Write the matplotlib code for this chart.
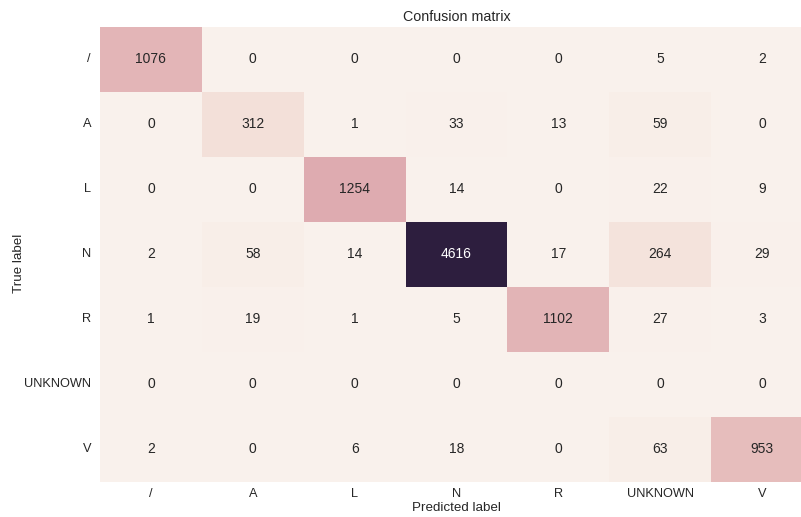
import numpy as np
import matplotlib
matplotlib.use("Agg")
import matplotlib.pyplot as plt
import seaborn as sns

classes = ["/", "A", "L", "N", "R", "UNKNOWN", "V"]

row_slash = [1076, 0, 0, 0, 0, 5, 2]
row_a = [0, 312, 1, 33, 13, 59, 0]
row_l = [0, 0, 1254, 14, 0, 22, 9]
row_n = [2, 58, 14, 4616, 17, 264, 29]
row_r = [1, 19, 1, 5, 1102, 27, 3]
row_unknown = [0, 0, 0, 0, 0, 0, 0]
row_v = [2, 0, 6, 18, 0, 63, 953]

cm = np.array([row_slash, row_a, row_l, row_n, row_r, row_unknown, row_v])

sns.set_style("darkgrid")
plt.rcParams['font.family'] = ['Liberation Sans', 'DejaVu Sans']

fig = plt.figure(figsize=(8.01, 5.17), dpi=100)
# heatmap runs a little past the right edge of the figure
ax = fig.add_axes([100 / 801, 1 - 481.5 / 517, 713 / 801, 455 / 517])

cmap = sns.cubehelix_palette(light=.95, as_cmap=True)
sns.heatmap(cm, annot=True, fmt="d", cbar=False, cmap=cmap,
            xticklabels=classes, yticklabels=classes, ax=ax,
            annot_kws={"size": 10})

ax.set_title("Confusion matrix", fontsize=10.3, color="0.15", pad=4)
ax.set_xlabel("Predicted label", fontsize=9.6, color="0.15")
ax.set_ylabel("True label", fontsize=9.6, color="0.15")
ax.xaxis.set_label_coords(0.5, (481.5 - 502) / 455)
ax.yaxis.set_label_coords((25 - 100) / 713, 0.48)
ax.tick_params(axis="both", labelsize=9.2, colors="0.15", length=0)
ax.tick_params(axis="x", pad=4.5)
ax.tick_params(axis="y", pad=6.5)
plt.setp(ax.get_yticklabels(), rotation=0)
plt.setp(ax.get_xticklabels(), rotation=0)

fig.savefig("out.png", dpi=100)
